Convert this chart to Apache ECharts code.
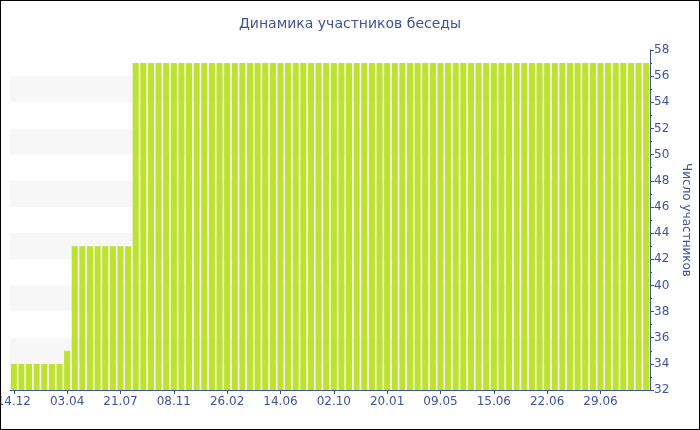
<!DOCTYPE html>
<html>
<head>
<meta charset="utf-8">
<script src="https://cdn.jsdelivr.net/npm/echarts@6/dist/echarts.min.js"></script>
<style>
html,body{margin:0;padding:0;background:#fff;}
#wrap{position:relative;width:700px;height:430px;}
#chart{position:absolute;left:0;top:0;width:700px;height:430px;}
#frame{position:absolute;left:0;top:0;width:700px;height:430px;box-sizing:border-box;border:1px solid #000;pointer-events:none;}
</style>
</head>
<body>
<div id="wrap"><div id="chart"></div><div id="frame"></div></div>
<script>
const titleText = 'Динамика участников беседы';
const yAxisName = 'Число участников';
const dates = [
  '14.12','30.12','15.01','31.01','16.02','04.03','19.03',
  '03.04','18.04','03.05','18.05','02.06','13.06','06.07',
  '21.07','06.08','22.08','07.09','23.09','08.10','24.10',
  '08.11','24.11','10.12','26.12','11.01','27.01','11.02',
  '26.02','14.03','30.03','15.04','01.05','16.05','31.05',
  '14.06','08.07','24.07','09.08','25.08','06.09','18.09',
  '02.10','18.10','03.11','19.11','05.12','21.12','05.01',
  '20.01','05.02','21.02','09.03','25.03','09.04','24.04',
  '09.05','14.05','19.05','25.05','30.05','04.06','10.06',
  '15.06','16.06','17.06','18.06','19.06','20.06','21.06',
  '22.06','23.06','24.06','25.06','26.06','27.06','28.06',
  '29.06','30.06','01.07','02.07','03.07','04.07','05.07'
];
const members = [
  34,34,34,34,34,34,34,
  35,43,43,43,43,43,43,
  43,43,57,57,57,57,57,
  57,57,57,57,57,57,57,
  57,57,57,57,57,57,57,
  57,57,57,57,57,57,57,
  57,57,57,57,57,57,57,
  57,57,57,57,57,57,57,
  57,57,57,57,57,57,57,
  57,57,57,57,57,57,57,
  57,57,57,57,57,57,57,
  57,57,57,57,57,57,57
];
const yTicks = {min: 32, max: 58, interval: 2};

const blue = '#3f539c';
const font = 'DejaVu Sans, Verdana, sans-serif';
const chart = echarts.init(document.getElementById('chart'));
chart.setOption({
  animation: false,
  backgroundColor: '#fff',
  title: {
    text: titleText, left: 'center', top: 12,
    textStyle: {color: blue, fontFamily: font, fontSize: 14, fontWeight: 'normal'}
  },
  grid: {left: 10, right: 50, top: 50, bottom: 40, containLabel: false, outerBoundsMode: 'none'},
  xAxis: {
    type: 'category', data: dates,
    axisLine: {show: true, lineStyle: {color: blue, width: 1}},
    axisTick: {show: true, interval: 6, alignWithLabel: true, length: 4, lineStyle: {color: blue}},
    axisLabel: {interval: 6, color: blue, fontFamily: font, fontSize: 12, margin: 6},
    splitLine: {show: false}
  },
  yAxis: {
    type: 'value', position: 'right',
    min: yTicks.min, max: yTicks.max, interval: yTicks.interval,
    name: yAxisName, nameLocation: 'middle', nameRotate: -90, nameGap: 26,
    nameTextStyle: {color: blue, fontFamily: font, fontSize: 12},
    axisLine: {show: true, lineStyle: {color: blue, width: 1}},
    axisTick: {show: true, length: 4, lineStyle: {color: blue}},
    minorTick: {show: true, splitNumber: 2, length: 2, lineStyle: {color: blue}},
    axisLabel: {color: blue, fontFamily: font, fontSize: 12, margin: 4},
    splitLine: {show: false},
    splitArea: {show: true, areaStyle: {color: ['rgba(255,255,255,0)', '#f7f7f7']}}
  },
  series: [{
    type: 'bar', data: members,
    barCategoryGap: '20%',
    itemStyle: {color: '#bde22f'}
  }]
});
</script>
</body>
</html>
